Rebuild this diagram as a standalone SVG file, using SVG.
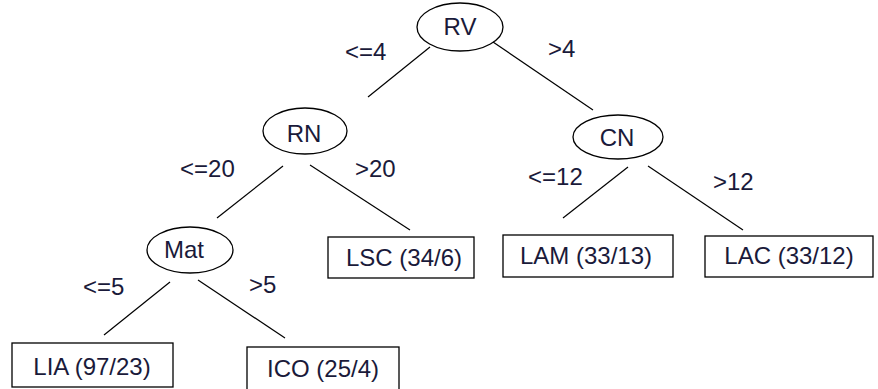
<svg xmlns="http://www.w3.org/2000/svg" width="878" height="389" viewBox="0 0 878 389">
<style>
.n{fill:#fff;stroke:#000;stroke-width:1.3}
.t{font-family:"Liberation Sans",Arial,sans-serif;font-size:24px;fill:#1a1a3a}
.c{text-anchor:middle}
.e line{stroke:#000;stroke-width:1.2}
</style>
<rect width="878" height="389" fill="#fff"/>
<g id="connectors" class="e">
<line x1="430" y1="47" x2="368" y2="97"/>
<line x1="493" y1="42" x2="593" y2="110"/>
<line x1="283" y1="166" x2="217" y2="218"/>
<line x1="310" y1="165" x2="410" y2="230"/>
<line x1="628" y1="167" x2="563" y2="218"/>
<line x1="648" y1="166" x2="743" y2="230"/>
<line x1="170" y1="282" x2="104" y2="335"/>
<line x1="198" y1="280" x2="285" y2="338"/>
<text class="t" x="345" y="60">&lt;=4</text>
<text class="t" x="548" y="57">&gt;4</text>
<text class="t" x="180" y="177">&lt;=20</text>
<text class="t" x="355" y="177">&gt;20</text>
<text class="t" x="528" y="185">&lt;=12</text>
<text class="t" x="713" y="190">&gt;12</text>
<text class="t" x="83" y="295">&lt;=5</text>
<text class="t" x="249" y="293">&gt;5</text>
</g>
<g id="RV"><ellipse class="n" cx="460" cy="27" rx="43" ry="24"/><text class="t c" x="460" y="35">RV</text></g>
<g id="RN"><ellipse class="n" cx="305" cy="131" rx="42" ry="23"/><text class="t c" x="304" y="142">RN</text></g>
<g id="CN"><ellipse class="n" cx="618" cy="137" rx="45" ry="22"/><text class="t c" x="617" y="146">CN</text></g>
<g id="Mat"><ellipse class="n" cx="190" cy="250" rx="43" ry="23"/><text class="t c" x="184" y="258">Mat</text></g>
<g id="LSC"><rect class="n" x="328" y="237" width="146" height="41"/><text class="t c" x="404" y="266">LSC (34/6)</text></g>
<g id="LAM"><rect class="n" x="503" y="235" width="170" height="42"/><text class="t c" x="586" y="264">LAM (33/13)</text></g>
<g id="LAC"><rect class="n" x="705" y="236" width="168" height="41"/><text class="t c" x="789" y="264">LAC (33/12)</text></g>
<g id="LIA"><rect class="n" x="12" y="343" width="161" height="44"/><text class="t c" x="92" y="375">LIA (97/23)</text></g>
<g id="ICO"><rect class="n" x="247" y="347" width="152" height="46"/><text class="t c" x="323" y="377">ICO (25/4)</text></g>
</svg>
